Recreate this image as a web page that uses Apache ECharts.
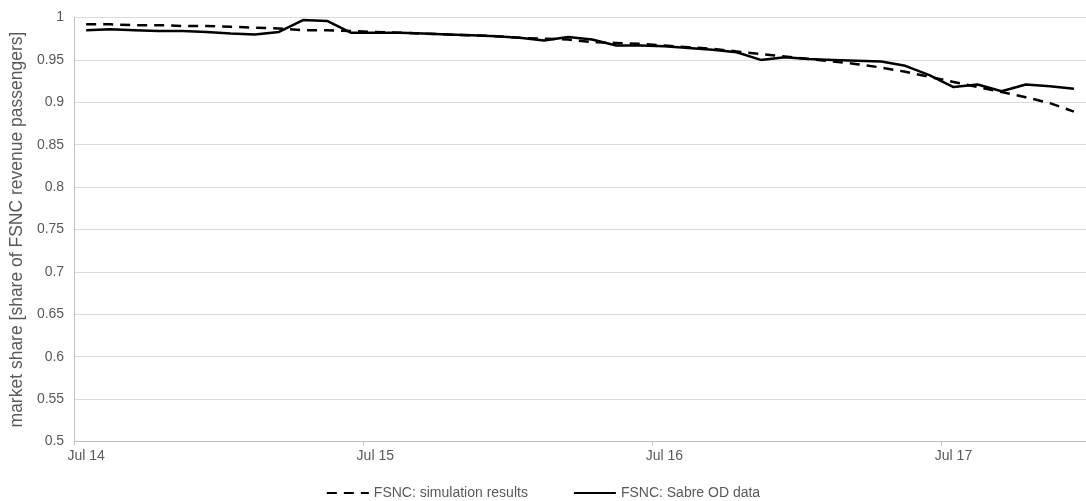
<!DOCTYPE html>
<html>
<head>
<meta charset="utf-8">
<script src="https://cdn.jsdelivr.net/npm/echarts@6/dist/echarts.min.js"></script>
<style>
  html, body { margin: 0; padding: 0; background: #fff; }
  #chart { width: 1086px; height: 501px; }
</style>
</head>
<body>
<div id="chart"></div>
<script>
const months = [
  "Jul 14","Aug 14","Sep 14","Oct 14","Nov 14","Dec 14","Jan 15","Feb 15","Mar 15","Apr 15","May 15","Jun 15",
  "Jul 15","Aug 15","Sep 15","Oct 15","Nov 15","Dec 15","Jan 16","Feb 16","Mar 16","Apr 16","May 16","Jun 16",
  "Jul 16","Aug 16","Sep 16","Oct 16","Nov 16","Dec 16","Jan 17","Feb 17","Mar 17","Apr 17","May 17","Jun 17",
  "Jul 17","Aug 17","Sep 17","Oct 17","Nov 17","Dec 17"
];
const simulation = [
  0.992,0.992,0.991,0.991,0.990,0.990,0.989,0.988,0.987,0.985,0.985,0.984,
  0.983,0.982,0.981,0.980,0.979,0.978,0.976,0.975,0.974,0.971,0.970,0.969,
  0.967,0.965,0.963,0.960,0.957,0.954,0.951,0.948,0.945,0.941,0.936,0.930,
  0.924,0.918,0.912,0.906,0.899,0.889
];
const sabre = [
  0.985,0.986,0.985,0.984,0.984,0.983,0.981,0.980,0.983,0.997,0.996,0.982,
  0.982,0.982,0.981,0.980,0.979,0.978,0.976,0.973,0.977,0.974,0.967,0.967,
  0.966,0.964,0.962,0.959,0.950,0.953,0.951,0.950,0.949,0.948,0.943,0.932,
  0.918,0.921,0.913,0.921,0.919,0.916
];
const seriesNames = ["FSNC: simulation results", "FSNC: Sabre OD data"];
const yTitle = "market share [share of FSNC revenue passengers]";

const font = "'Liberation Sans', Arial, sans-serif";
const textColor = "#595959";
const chart = echarts.init(document.getElementById('chart'));
chart.setOption({
  animation: false,
  backgroundColor: '#ffffff',
  textStyle: { fontFamily: font },
  grid: { left: 73, top: 17.5, width: 1018, height: 424 },
  legend: {
    top: 481,
    left: 'center',
    itemWidth: 42,
    itemHeight: 12,
    itemGap: 45,
    itemStyle: { opacity: 0 },
    textStyle: { color: textColor, fontSize: 14, fontFamily: font },
    data: seriesNames
  },
  xAxis: {
    type: 'category',
    data: months,
    boundaryGap: true,
    axisLine: { lineStyle: { color: '#bfbfbf', width: 1 } },
    axisTick: { show: true, interval: 11, length: 4, lineStyle: { color: '#bfbfbf' } },
    axisLabel: { interval: 11, color: textColor, fontSize: 14, margin: 8, fontFamily: font },
    splitLine: { show: false }
  },
  yAxis: {
    type: 'value',
    min: 0.5,
    max: 1,
    interval: 0.05,
    name: yTitle,
    nameLocation: 'middle',
    nameRotate: 90,
    nameGap: 43,
    nameTextStyle: { color: textColor, fontSize: 17.5, fontFamily: font },
    axisLine: { show: true, lineStyle: { color: '#bfbfbf', width: 1 } },
    axisTick: { show: false },
    axisLabel: { color: textColor, fontSize: 14, margin: 10, fontFamily: font },
    splitLine: { lineStyle: { color: '#dcdcdc', width: 1 } }
  },
  series: [
    {
      name: seriesNames[0],
      type: 'line',
      data: simulation,
      symbol: 'none',
      lineStyle: { color: '#000', width: 2.5, type: [10, 7] },
      itemStyle: { color: '#000' },
      z: 3
    },
    {
      name: seriesNames[1],
      type: 'line',
      data: sabre,
      symbol: 'none',
      lineStyle: { color: '#000', width: 2.5, type: 'solid' },
      itemStyle: { color: '#000' },
      z: 4
    }
  ]
});
</script>
</body>
</html>
